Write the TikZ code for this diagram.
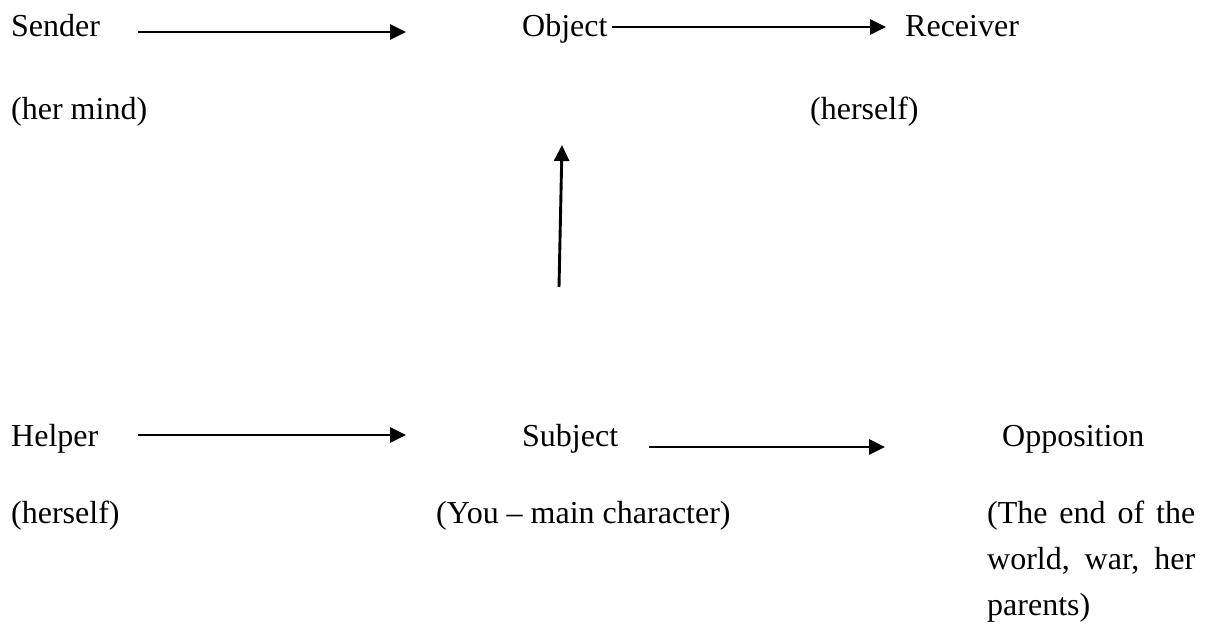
\documentclass[tikz,border=0pt]{standalone}
\usepackage{fontspec}
\setmainfont{Liberation Serif}
\usetikzlibrary{arrows.meta}
\begin{document}
\begin{tikzpicture}[x=1pt,y=-1pt,
  lbl/.style={anchor=base west,inner sep=0pt,font=\fontsize{32}{45}\selectfont},
  conn/.style={line width=2.9pt,-{Triangle[length=16pt,width=15pt]}}]
\useasboundingbox (0,0) rectangle (1205,644);
% top row
\node[lbl] (sender) at (11,37) {Sender};
\node[lbl] (object) at (522,37) {Object};
\node[lbl] (receiver) at (905,37) {Receiver};
\node[lbl] (mind) at (11,120) {(her mind)};
\node[lbl] (herselfA) at (810,120) {(herself)};
% bottom row
\node[lbl] (helper) at (11,446) {Helper};
\node[lbl] (subject) at (522,446) {Subject};
\node[lbl] (opposition) at (1002,446) {Opposition};
\node[lbl] (herselfB) at (11,523) {(herself)};
\node[lbl] (you) at (436,523) {(You -- main character)};
\node[lbl] (oppA) at (987,523) {\makebox[208pt][s]{(The end of the}};
\node[lbl] (oppB) at (987,569) {\makebox[208pt][s]{world, war, her}};
\node[lbl] (oppC) at (987,615) {parents)};
% arrow endpoints
\coordinate (a1s) at (138,32);  \coordinate (a1e) at (406,32);
\coordinate (a2s) at (612,27);  \coordinate (a2e) at (886,27);
\coordinate (a3s) at (559,287); \coordinate (a3e) at (562,145);
\coordinate (a4s) at (138,435); \coordinate (a4e) at (406,435);
\coordinate (a5s) at (649,447); \coordinate (a5e) at (885,447);
\draw[conn] (a1s) -- (a1e);
\draw[conn] (a2s) -- (a2e);
\draw[conn] (a3s) -- (a3e);
\draw[conn] (a4s) -- (a4e);
\draw[conn] (a5s) -- (a5e);
\end{tikzpicture}
\end{document}
